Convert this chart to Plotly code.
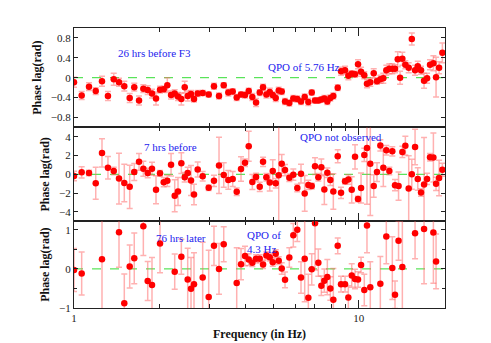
import plotly.graph_objects as go

# ---------------- data ----------------
freq_a = [1.00, 1.064, 1.129, 1.192, 1.254, 1.316, 1.379, 1.439, 1.502, 1.569,
          1.628, 1.692, 1.752, 1.815, 1.879, 1.941, 2.005, 2.066, 2.127, 2.192,
          2.258, 2.319, 2.382, 2.448, 2.508, 2.576, 2.639, 2.719, 2.831, 2.972,
          3.102, 3.231, 3.356, 3.483, 3.609, 3.728, 3.860, 3.987, 4.108, 4.230,
          4.359, 4.491, 4.613, 4.738, 4.870, 4.989, 5.111, 5.236, 5.365, 5.510,
          5.705, 5.892, 6.085, 6.270, 6.461, 6.653, 6.838, 7.023, 7.213, 7.390,
          7.572, 7.758, 7.948, 8.143, 8.438, 8.666, 8.952, 9.194, 9.449, 9.705,
          9.943, 10.19, 10.46, 10.69, 10.98, 11.29, 11.59, 11.91, 12.20, 12.50,
          12.81, 13.12, 13.41, 13.71, 13.97, 14.23, 14.58, 14.98, 15.36, 15.77,
          16.12, 16.55, 16.96, 17.38, 17.80, 18.29, 18.69, 19.15, 19.67]
lag_a = [-0.09, -0.36, -0.18, -0.27, -0.07, -0.37, -0.03, -0.09, -0.17, -0.41,
         -0.19, -0.46, -0.22, -0.25, -0.32, -0.42, -0.24, -0.23, -0.15, -0.35,
         -0.32, -0.38, -0.43, -0.19, -0.37, -0.33, -0.43, -0.32, -0.31, -0.34,
         -0.17, -0.37, -0.15, -0.30, -0.28, -0.40, -0.34, -0.35, -0.27, -0.39,
         -0.50, -0.30, -0.19, -0.34, -0.29, -0.35, -0.41, -0.26, -0.28, -0.48,
         -0.51, -0.42, -0.43, -0.48, -0.39, -0.49, -0.30, -0.46, -0.46, -0.44,
         -0.42, -0.48, -0.41, -0.37, -0.20, 0.13, 0.15, 0.04, 0.08, 0.07,
         0.27, 0.12, 0.05, -0.12, -0.09, 0.09, -0.07, -0.03, -0.01, 0.15,
         0.18, 0.18, 0.18, 0.37, 0.00, 0.38, 0.26, 0.20, 0.78, 0.15,
         0.23, 0.15, -0.06, -0.01, 0.26, 0.29, 0.01, 0.20, 0.50]
err_a = [0.10, 0.08, 0.08, 0.07, 0.10, 0.09, 0.12, 0.08, 0.10, 0.09,
         0.08, 0.09, 0.08, 0.09, 0.09, 0.13, 0.07, 0.06, 0.15, 0.08,
         0.08, 0.08, 0.12, 0.12, 0.10, 0.07, 0.06, 0.06, 0.05, 0.05,
         0.06, 0.06, 0.05, 0.07, 0.06, 0.06, 0.05, 0.06, 0.06, 0.07,
         0.08, 0.06, 0.06, 0.07, 0.08, 0.06, 0.07, 0.07, 0.06, 0.06,
         0.06, 0.06, 0.06, 0.06, 0.06, 0.07, 0.05, 0.05, 0.05, 0.05,
         0.06, 0.06, 0.06, 0.06, 0.06, 0.08, 0.08, 0.08, 0.06, 0.06,
         0.09, 0.09, 0.07, 0.08, 0.08, 0.09, 0.06, 0.08, 0.10, 0.10,
         0.10, 0.10, 0.08, 0.15, 0.13, 0.13, 0.08, 0.10, 0.12, 0.10,
         0.10, 0.08, 0.15, 0.10, 0.10, 0.15, 0.40, 0.12, 0.20]

freq_b = [1.00, 1.064, 1.129, 1.192, 1.254, 1.316, 1.379, 1.439, 1.502, 1.569,
          1.628, 1.692, 1.752, 1.815, 1.879, 1.941, 2.005, 2.066, 2.127, 2.192,
          2.258, 2.319, 2.382, 2.448, 2.508, 2.576, 2.639, 2.719, 2.831, 2.972,
          3.102, 3.231, 3.356, 3.483, 3.609, 3.728, 3.860, 3.987, 4.108, 4.230,
          4.359, 4.491, 4.613, 4.738, 4.870, 4.989, 5.111, 5.236, 5.365, 5.510,
          5.705, 5.892, 6.085, 6.270, 6.461, 6.653, 6.838, 7.023, 7.213, 7.390,
          7.572, 7.758, 7.948, 8.143, 8.438, 8.666, 8.952, 9.194, 9.449, 9.705,
          9.943, 10.19, 10.46, 10.69, 10.98, 11.29, 11.59, 11.91, 12.20, 12.50,
          12.81, 13.12, 13.41, 13.80, 14.23, 14.58, 14.98, 15.36, 15.77, 16.12,
          16.55, 16.96, 17.38, 17.80, 18.29, 18.69, 19.15, 19.67]
lag_b = [-0.18, 0.21, 0.14, -0.95, 2.28, 0.70, 0.35, -0.46, -0.92, -1.34,
         0.24, 1.33, 0.59, 0.14, 0.59, -1.65, 0.10, -0.84, -0.70, 1.01,
         -2.28, -1.83, 1.19, -0.32, 0.14, -0.67, -2.15, 0.52, -0.21, -1.44,
         -0.70, 0.95, -0.07, -0.60, -0.49, -1.86, 0.56, 1.22, 2.98, -0.81,
         -0.28, -1.34, 1.33, -0.32, -0.88, 0.35, -0.95, -0.11, 1.12, 0.45,
         -0.36, -0.04, -1.47, 0.06, -2.04, -1.13, -1.26, 0.87, -0.32, 0.74,
         -1.62, 0.17, -0.60, -1.83, 1.93, -1.97, -0.74, -0.56, -1.65, 1.86,
         -2.63, -1.47, 2.07, 2.81, 1.12, -1.26, 0.24, 3.08, 0.70, 2.56,
         0.35, 2.45, -1.16, -1.26, 2.38, 3.05, -1.52, 0.00, 2.91, -0.49,
         -1.94, -1.09, -0.49, 1.82, 1.79, -1.02, -0.39, 0.48]
err_b = [0.5, 0.6, 0.3, 1.7, 1.5, 1.2, 0.4, 2.7, 2.0, 2.3,
         0.9, 0.9, 0.8, 0.5, 0.7, 1.5, 0.3, 0.5, 0.6, 1.2,
         1.7, 1.5, 1.1, 0.5, 0.6, 1.6, 1.1, 0.8, 0.5, 0.3,
         0.6, 3.0, 1.3, 1.0, 0.8, 0.4, 1.3, 0.4, 1.6, 0.8,
         0.4, 0.5, 0.5, 0.4, 0.9, 1.2, 0.5, 6.0, 1.0, 0.6,
         0.4, 0.6, 0.4, 1.0, 1.9, 0.5, 0.3, 0.9, 0.4, 0.9,
         1.6, 0.5, 0.6, 1.9, 0.7, 0.6, 0.3, 0.5, 1.4, 1.3,
         0.3, 1.6, 0.7, 6.0, 5.5, 1.2, 1.0, 0.6, 2.0, 0.5,
         0.4, 0.5, 0.6, 1.5, 0.6, 1.0, 3.5, 1.6, 1.9, 1.2,
         0.4, 5.0, 0.6, 0.4, 2.6, 0.7, 1.9, 0.7]

freq_c = [1.00, 1.064, 1.254, 1.439, 1.502, 1.569, 1.628, 1.752, 1.815, 1.879,
          2.005, 2.258, 2.382, 2.508, 2.576, 2.639, 2.831, 2.972, 3.102, 3.231,
          3.356, 3.728, 3.860, 3.987, 4.108, 4.230, 4.359, 4.491, 4.613, 4.738,
          4.870, 4.989, 5.111, 5.236, 5.365, 5.510, 5.705, 5.892, 6.085, 6.270,
          6.461, 6.653, 6.838, 7.023, 7.213, 7.390, 7.572, 7.758, 7.948, 8.143,
          8.438, 8.666, 8.952, 9.194, 9.449, 9.705, 9.943, 10.19, 10.46, 10.69,
          10.98, 11.91, 12.50, 13.12, 13.41, 13.80, 14.23, 15.77, 16.96, 18.29,
          18.69]
lag_c = [-0.03, -0.12, 0.25, 0.94, -0.88, 0.06, 0.27, 1.09, -0.31, -0.41,
         0.65, -0.07, 0.31, -0.27, -0.51, -0.39, -0.22, -0.72, 0.59, 0.00,
         0.63, -0.36, 0.12, 0.33, 0.24, 0.16, 0.26, 0.26, 0.11, 0.34,
         0.30, 0.17, 0.39, 0.21, 0.01, -0.28, 0.29, 0.86, 1.00, -0.22,
         0.26, -0.74, -0.01, 1.17, 0.16, -0.43, -0.30, -0.21, -0.50, -0.79,
         0.59, -0.39, -0.39, -0.73, -0.17, -0.26, -0.27, 0.10, -0.54, 1.11,
         -0.47, -0.38, 0.83, 0.02, -0.66, 0.72, 0.05, 0.91, 1.02, 0.93,
         0.19]
err_c = [0.55, 0.55, 1.5, 0.9, 0.75, 0.55, 0.65, 0.75, 0.5, 0.7,
         0.75, 0.45, 0.45, 0.8, 0.8, 0.8, 0.9, 1.2, 0.5, 0.65,
         0.45, 0.9, 0.4, 0.25, 0.15, 0.1, 0.1, 0.1, 0.1, 0.1,
         0.1, 0.1, 0.1, 0.1, 0.15, 0.2, 0.25, 0.3, 0.3, 0.4,
         1.1, 0.6, 0.4, 1.2, 0.35, 0.25, 0.3, 0.45, 0.3, 0.8,
         0.2, 0.2, 0.2, 0.3, 0.3, 0.25, 0.2, 0.2, 0.4, 0.7,
         0.65, 0.7, 0.7, 0.8, 0.35, 0.5, 1.2, 0.65, 1.4, 1.3,
         0.7]

x_tick_vals = [1, 10]
x_tick_text = ["1", "10"]
x_minor_vals = [2, 3, 4, 5, 6, 7, 8, 9, 20]
y1_ticks = [0.8, 0.4, 0, -0.4, -0.8]
y2_ticks = [4, 2, 0, -2, -4]
y3_ticks = [1, 0, -1]
y3_minor = [0.5, -0.5]

# ---------------- figure ----------------
FONT = "Liberation Serif"
RED = "#ff0000"
ERRC = "rgba(255,100,100,0.5)"

fig = go.Figure()
panels = [(freq_a, lag_a, err_a, "x", "y"),
          (freq_b, lag_b, err_b, "x2", "y2"),
          (freq_c, lag_c, err_c, "x3", "y3")]
for f, v, e, xa, ya in panels:
    fig.add_trace(go.Scatter(
        x=f, y=v, mode="markers", xaxis=xa, yaxis=ya,
        marker=dict(color=RED, size=6.5),
        error_y=dict(type="data", array=e, visible=True, color=ERRC,
                     thickness=1.5, width=3),
        showlegend=False, cliponaxis=True))

domains = {"": [0.645, 1.0], "2": [0.31, 0.645], "3": [0.0, 0.31]}
yranges = {"": [-1.0, 1.0], "2": [-5.0, 5.0], "3": [-1.0, 1.22]}
yticks = {"": y1_ticks, "2": y2_ticks, "3": y3_ticks}

axis_common = dict(showline=True, linecolor="#222", linewidth=1, mirror="allticks",
                   ticks="inside", tickcolor="#222", showgrid=False, zeroline=False,
                   tickfont=dict(family=FONT, size=11, color="#222"))

for s in ["", "2", "3"]:
    xa = dict(axis_common)
    xa.update(type="log", range=[0, 1.303], tickvals=x_tick_vals, ticklen=8,
              ticktext=x_tick_text if s == "3" else ["", ""],
              anchor="y" + s,
              minor=dict(tickvals=x_minor_vals, ticks="inside", ticklen=4,
                         tickcolor="#222", showgrid=False))
    if s != "3":
        xa["matches"] = "x3"
    else:
        xa["title"] = dict(text="<b>Frequency (in Hz)</b>",
                           font=dict(family=FONT, size=12, color="#111"), standoff=6)
    fig.layout["xaxis" + s] = xa

    ya = dict(axis_common)
    ya.update(domain=domains[s], range=yranges[s], tickvals=yticks[s], ticklen=4,
              anchor="x" + s,
              title=dict(text="<b>Phase lag(rad)</b>",
                         font=dict(family=FONT, size=12, color="#111"), standoff=6))
    if s == "3":
        ya["minor"] = dict(tickvals=y3_minor, ticks="inside", ticklen=3, tickcolor="#222")
    fig.layout["yaxis" + s] = ya

    fig.add_shape(type="line", xref=("x" + s) + " domain", yref="y" + s,
                  x0=0, x1=1, y0=0, y1=0,
                  line=dict(color="#33dd33", width=1, dash="dash"), layer="below")

ann_font = dict(family=FONT, size=11, color="#2222ee")
ann = [
    ("", 0.218, 0.49, "26 hrs before F3", "center"),
    ("", 0.62, 0.22, "QPO of 5.76 Hz", "center"),
    ("2", 0.259, 2.87, "7 hrs before", "center"),
    ("2", 0.72, 4.03, "QPO not observed", "center"),
    ("3", 0.288, 0.78, "76 hrs later", "center"),
    ("3", 0.461, 0.69, "QPO of<br>4.3 Hz", "left"),
]
for s, xd, yv, txt, al in ann:
    fig.add_annotation(xref=("x" + s) + " domain", yref="y" + s, x=xd, y=yv,
                       text=txt, showarrow=False, font=ann_font, align="left",
                       xanchor=al)

fig.update_layout(width=491, height=343, margin=dict(l=66, r=54, t=20, b=34),
                  paper_bgcolor="white", plot_bgcolor="white",
                  font=dict(family=FONT))
fig.write_html("out.html")
